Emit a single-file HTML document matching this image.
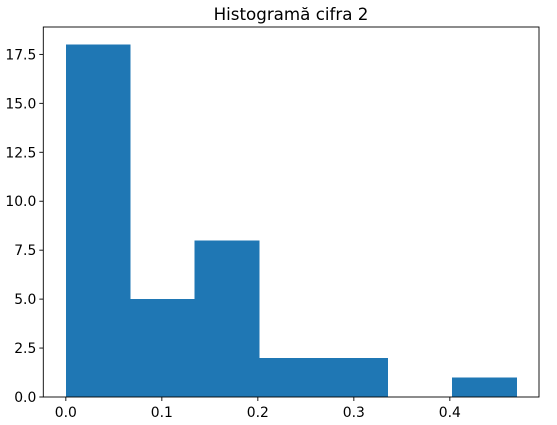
<!DOCTYPE html>
<html><head><meta charset="utf-8"><style>
body{margin:0;background:#fff;}
svg{display:block;font-family:"DejaVu Sans","Liberation Sans",sans-serif;}
</style></head><body>
<svg id="chart" width="557" height="425" xmlns="http://www.w3.org/2000/svg">
<rect width="557" height="425" fill="#fff"/>
<text x="291" y="20" text-anchor="middle" font-size="16.7" fill="#000">Histogramă cifra 2</text>
<g id="bars" shape-rendering="crispEdges"></g>
<g id="axes"></g>
</svg>
<script>
const counts = [18, 5, 8, 2, 2, 0, 1];
const binMin = 0;
const binMax = 0.4694;
const xTicks = [0.0, 0.1, 0.2, 0.3, 0.4];
const xTickLabels = ["0.0", "0.1", "0.2", "0.3", "0.4"];
const yTicks = [0, 2.5, 5, 7.5, 10, 12.5, 15, 17.5];
const yTickLabels = ["0.0", "2.5", "5.0", "7.5", "10.0", "12.5", "15.0", "17.5"];

const L = 43.3, R = 539, T = 27, B = 397;
const span = binMax - binMin;
const xMin = binMin - 0.05 * span, xMax = binMax + 0.05 * span;
const yMax = Math.max(...counts) * 1.05;
const xs = v => L + (v - xMin) / (xMax - xMin) * (R - L);
const ys = v => B - v / yMax * (B - T);
const NS = "http://www.w3.org/2000/svg";
const bars = document.getElementById('bars');
const axes = document.getElementById('axes');
const w = span / counts.length;
counts.forEach((c, i) => {
  if (c <= 0) return;
  const r = document.createElementNS(NS, 'rect');
  const x0 = xs(binMin + i * w), x1 = xs(binMin + (i + 1) * w);
  r.setAttribute('x', x0); r.setAttribute('width', x1 - x0 + 0.5);
  r.setAttribute('y', ys(c)); r.setAttribute('height', B - ys(c));
  r.setAttribute('fill', '#1f77b4');
  
  
  bars.appendChild(r);
});
const frame = document.createElementNS(NS, 'rect');
frame.setAttribute('x', L); frame.setAttribute('y', T);
frame.setAttribute('width', R - L); frame.setAttribute('height', B - T);
frame.setAttribute('fill', 'none'); frame.setAttribute('stroke', '#000'); frame.setAttribute('stroke-width', '0.9');


axes.appendChild(frame);
xTicks.forEach((t, i) => {
  const x = xs(t);
  const l = document.createElementNS(NS, 'line');
  l.setAttribute('x1', x); l.setAttribute('x2', x); l.setAttribute('y1', B); l.setAttribute('y2', B + 4);
  l.setAttribute('stroke', '#000'); l.setAttribute('stroke-width', '0.9');
  
  
  axes.appendChild(l);
  const tx = document.createElementNS(NS, 'text');
  tx.setAttribute('x', x); tx.setAttribute('y', B + 20); tx.setAttribute('text-anchor', 'middle');
  tx.setAttribute('font-size', '13.9'); tx.textContent = xTickLabels[i];
  
  
  axes.appendChild(tx);
});
yTicks.forEach((t, i) => {
  const y = ys(t);
  const l = document.createElementNS(NS, 'line');
  l.setAttribute('x1', L - 4); l.setAttribute('x2', L); l.setAttribute('y1', y); l.setAttribute('y2', y);
  l.setAttribute('stroke', '#000'); l.setAttribute('stroke-width', '0.9');
  
  
  axes.appendChild(l);
  const tx = document.createElementNS(NS, 'text');
  tx.setAttribute('x', L - 7); tx.setAttribute('y', y + 5); tx.setAttribute('text-anchor', 'end');
  tx.setAttribute('font-size', '13.9'); tx.textContent = yTickLabels[i];
  
  
  axes.appendChild(tx);
});
</script>
</body></html>
